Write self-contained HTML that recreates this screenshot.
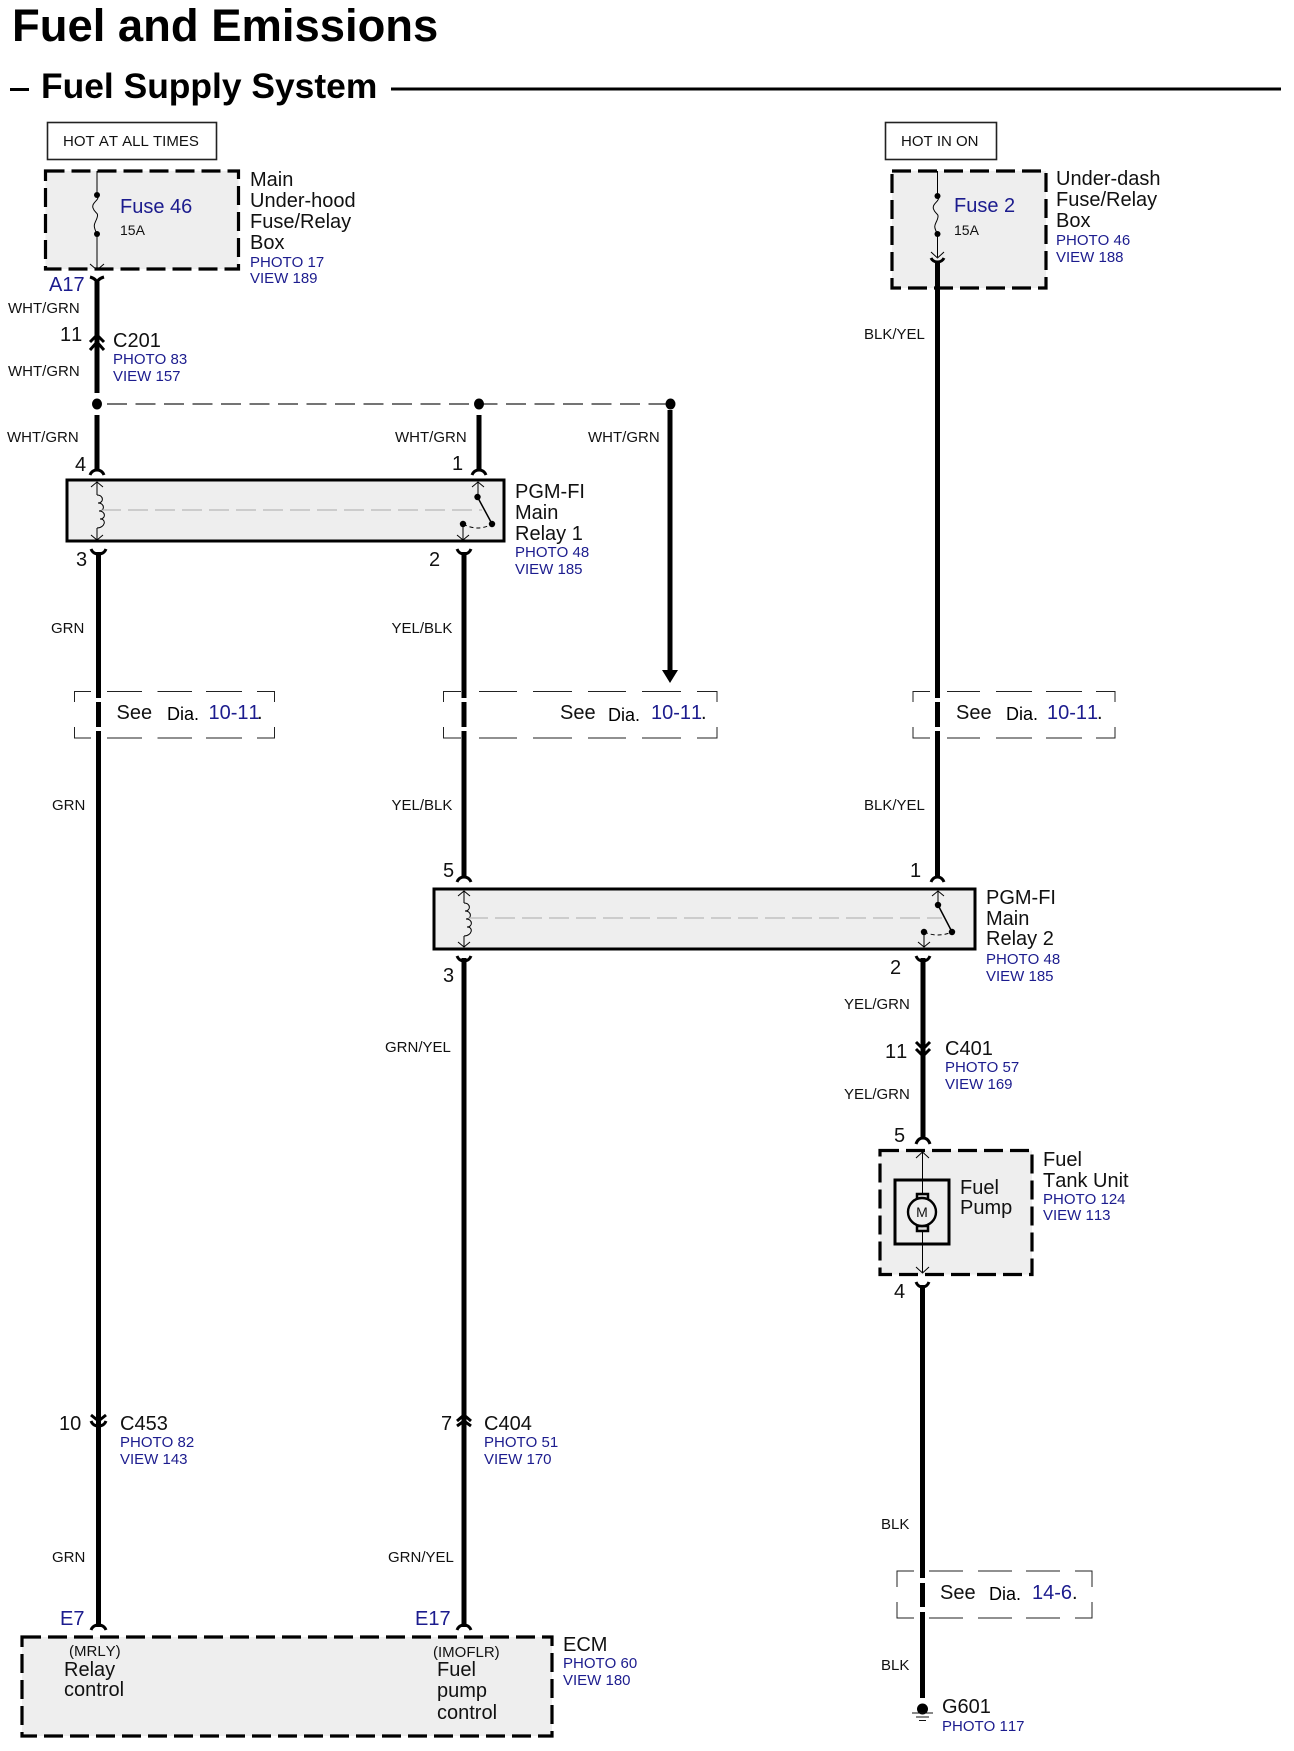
<!DOCTYPE html>
<html><head><meta charset="utf-8"><title>Fuel and Emissions - Fuel Supply System</title>
<style>
html,body{margin:0;padding:0;background:#fff}
svg{display:block}
text{font-family:"Liberation Sans",Arial,sans-serif;fill:#111;font-kerning:none}
.l{font-size:20px}.w{font-size:15px}.p{font-size:15px;fill:#1c1c8e}.b{font-size:20px;fill:#1c1c8e}.d{font-size:18px;fill:#000}
.thk{stroke:#000;stroke-width:5;fill:none}
.thn{stroke:#000;stroke-width:1;fill:none}
.con{stroke:#000;stroke-width:3;fill:none}
.box{fill:#eeeeee;stroke:#000;stroke-width:3}
.dbox{fill:#eeeeee;stroke:#000;stroke-width:3.2;stroke-dasharray:19 7}
.see{fill:none;stroke:#222;stroke-width:1}
.g{stroke:#aaa;stroke-width:1;stroke-dasharray:20 7;fill:none}
</style></head><body>
<svg width="1294" height="1751" viewBox="0 0 1294 1751" xmlns="http://www.w3.org/2000/svg">
<rect width="1294" height="1751" fill="#fff"/>
<!-- Titles -->
<text x="12" y="41" font-size="45.400" font-weight="700" style="fill:#000">Fuel and Emissions</text>
<rect x="10" y="88" width="19" height="3" fill="#000"/>
<text x="41" y="98" font-size="35.400" font-weight="700" style="fill:#000">Fuel Supply System</text>
<rect x="391" y="87.500" width="890" height="3" fill="#000"/>

<!-- Hot boxes -->
<rect x="47.500" y="122.500" width="169" height="37" fill="#fff" stroke="#222" stroke-width="1.600"/>
<text x="63" y="146" class="w">HOT AT ALL TIMES</text>
<rect x="885.500" y="122.500" width="111" height="37" fill="#fff" stroke="#222" stroke-width="1.600"/>
<text x="901" y="146" class="w">HOT IN ON</text>

<!-- Component boxes -->
<rect x="45.500" y="171" width="193" height="98" class="dbox"/>
<rect x="892" y="171" width="154" height="117" class="dbox"/>
<rect x="67" y="480" width="437" height="61" class="box"/>
<rect x="434" y="889" width="541" height="60" class="box"/>
<rect x="880" y="1150.500" width="152" height="124" class="dbox"/>
<rect x="22" y="1637" width="530" height="99" class="dbox"/>

<!-- Fuse 46 internals -->
<path class="thn" d="M97 171V195M97 234V268M97 195c4 5 -6 7 -4 13s6 4 4 10 -5 6 0 16"/>
<circle cx="97" cy="195" r="3"/><circle cx="97" cy="234" r="3"/>
<path class="thn" d="M90 264L97 270L104 264"/>
<text x="120" y="213" class="b">Fuse 46</text>
<text x="120" y="235" font-size="14">15A</text>

<!-- Fuse 2 internals -->
<path class="thn" d="M937.500 171V196M937.500 234V257M937.500 196c4 5 -6 7 -4 13s6 4 4 10 -5 6 0 15"/>
<circle cx="937.500" cy="196" r="3"/><circle cx="937.500" cy="234" r="3"/>
<path class="thn" d="M931 252L937.500 258L944 252"/>
<text x="954" y="212" class="b">Fuse 2</text>
<text x="954" y="235" font-size="14">15A</text>

<!-- Thick wires -->
<path class="thk" d="M97 282V393M97 415V471"/>
<path class="thk" d="M479 415V471"/>
<path class="thk" d="M670 410V672"/>
<path d="M662 670H678L670 683Z" fill="#000"/>
<path class="thk" d="M98.500 552V698M98.500 702V727M98.500 731V1627"/>
<path class="thk" d="M464 552V698M464 702V727M464 731V878"/>
<path class="thk" d="M464 958V1627"/>
<path class="thk" d="M937.500 262V698M937.500 702V727M937.500 731V878"/>
<path class="thk" d="M923 958V1137"/>
<path class="thk" d="M922.500 1285V1578M922.500 1583V1607M922.500 1612V1698"/>

<!-- Connectors -->
<path class="con" d="M90 277Q97 279 97 284Q97 279 104 277"/>
<path class="con" d="M90 342L97 335L104 342M90 350L97 342L104 350"/>
<path class="con" d="M90 475Q92 470 97 470Q102 470 104 475"/>
<path class="con" d="M472 475Q474 470 479 470Q484 470 486 475"/>
<path class="con" d="M91 549Q93 554 98.500 554Q104 554 106 549"/>
<path class="con" d="M457 549Q459 554 464 554Q469 554 471 549"/>
<path class="con" d="M931 258Q933 262 937.500 262Q942 262 944 258"/>
<path class="con" d="M457 882Q459 877 464 877Q469 877 471 882"/>
<path class="con" d="M931 882Q933 877 937.500 877Q942 877 944 882"/>
<path class="con" d="M457 956Q459 961 464 961Q469 961 471 956"/>
<path class="con" d="M916 956Q918 961 923 961Q928 961 930 956"/>
<path class="con" d="M916 1042L923 1049L930 1042M916 1049L923 1056L930 1049"/>
<path class="con" d="M916 1144Q918 1138 923 1138Q928 1138 930 1144"/>
<path class="con" d="M916 1282Q918 1287 922.500 1287Q927 1287 929 1282"/>
<path class="con" d="M91 1415L98.500 1421L106 1415M91 1421Q93 1426 98.500 1426Q104 1426 106 1421"/>
<path class="con" d="M457 1421L464 1415L471 1421M457 1426L464 1421L471 1426"/>
<path class="con" d="M91 1630Q93 1625 98.500 1625Q104 1625 106 1630"/>
<path class="con" d="M457 1630Q459 1625 464 1625Q469 1625 471 1630"/>

<!-- Splice -->
<path d="M107 404H670" stroke="#222" stroke-width="1.200" stroke-dasharray="20 8.500" fill="none"/>
<ellipse cx="97" cy="404" rx="5" ry="5.500"/><ellipse cx="479" cy="404" rx="5" ry="5.500"/><ellipse cx="670.500" cy="404" rx="5" ry="5.500"/>

<!-- Relay 1 internals -->
<path class="thn" d="M97 482V495M97 528V540M91 487L97 482L103 487M91 535L97 540L103 535"/>
<path class="thn" d="M97 495c7 0 7 8 1 8c7 0 7 8 1 8c7 0 7 8 1 8c7 0 5 9 -3 9"/>
<path class="g" d="M101 510H482"/>
<path class="thn" d="M478 482V497M472 487L478 482L484 487M463 524V540M457 535L463 540L469 535"/>
<path d="M477.500 497L491 522" stroke="#000" stroke-width="1.500" fill="none"/>
<path d="M463 524Q478 532 492 524" stroke="#000" stroke-width="1" stroke-dasharray="4 3" fill="none"/>
<circle cx="477.500" cy="497" r="3.200"/><circle cx="492" cy="524" r="3.200"/><circle cx="463" cy="524" r="3.200"/>

<!-- Relay 2 internals -->
<path class="thn" d="M464 891V903M464 936V947M458 896L464 891L470 896M458 942L464 947L470 942"/>
<path class="thn" d="M464 903c7 0 7 8 1 8c7 0 7 8 1 8c7 0 7 8 1 8c7 0 5 9 -3 9"/>
<path class="g" d="M468 918H942"/>
<path class="thn" d="M938 891V905M932 896L938 891L944 896M924 932V947M918 942L924 947L930 942"/>
<path d="M938 905L951 930" stroke="#000" stroke-width="1.500" fill="none"/>
<path d="M924 932Q938 938 952 932" stroke="#000" stroke-width="1" stroke-dasharray="4 3" fill="none"/>
<circle cx="938" cy="905" r="3.200"/><circle cx="952" cy="932" r="3.200"/><circle cx="924" cy="932" r="3.200"/>

<!-- Fuel pump -->
<rect x="895" y="1180" width="54" height="64" fill="none" stroke="#000" stroke-width="3"/>
<path class="thn" d="M922.500 1152V1196M922.500 1228V1273M916 1158L922.500 1152L929 1158M916 1267L922.500 1273L929 1267"/>
<rect x="917" y="1194" width="11" height="6" fill="#ddd" stroke="#000" stroke-width="2.500"/>
<rect x="917" y="1226" width="11" height="5" fill="#ddd" stroke="#000" stroke-width="2.500"/>
<circle cx="922" cy="1212" r="14" fill="#eee" stroke="#000" stroke-width="2.400"/>
<text x="922" y="1217" font-size="14" text-anchor="middle">M</text>

<!-- See boxes -->
<g class="see">
<path d="M91 691.500H74.500V702M74.500 727V738H91M107 691.500H142M157.500 691.500H192M206 691.500H242M257 691.500H274.500V702M274.500 727V738H257M242 738H206M192 738H157.500M142 738H107"/>
<path d="M461 691.500H443.500V702M443.500 727V738H461M479 691.500H517M533 691.500H572M588 691.500H626M642 691.500H681M697 691.500H717V702M717 727V738H697M681 738H642M626 738H588M572 738H533M517 738H479"/>
<path d="M930 691.500H913V702M913 727V738H930M947 691.500H980M996 691.500H1032M1046 691.500H1082M1096 691.500H1115V702M1115 727V738H1096M1082 738H1046M1032 738H996M980 738H947"/>
<path d="M914 1571H897V1587M897 1602V1618H914M929 1571H963M978 1571H1012M1026 1571H1060M1075 1571H1092V1587M1092 1602V1618H1075M1060 1618H1026M1012 1618H978M963 1618H929"/>
</g>
<text x="116.500" y="719" class="l">See</text><text x="167" y="720" class="d">Dia.</text><text x="208.500" y="719" class="b">10-11</text><text x="257" y="719" class="l">.</text>
<text x="560" y="719" class="l">See</text><text x="608" y="721" class="d">Dia.</text><text x="651" y="719" class="b">10-11</text><text x="701" y="719" class="l">.</text>
<text x="956" y="719" class="l">See</text><text x="1006" y="720" class="d">Dia.</text><text x="1047" y="719" class="b">10-11</text><text x="1097" y="719" class="l">.</text>
<text x="940" y="1599" class="l">See</text><text x="989" y="1600" class="d">Dia.</text><text x="1032" y="1599" class="b">14-6</text><text x="1072" y="1599" class="l">.</text>

<!-- Ground -->
<ellipse cx="922.500" cy="1709" rx="5.500" ry="5.500"/>
<path d="M912 1713H933M916 1717H929M919 1720.500H926" stroke="#111" stroke-width="1" fill="none"/>

<!-- Labels -->
<text x="250" y="186" class="l">Main</text><text x="250" y="207" class="l">Under-hood</text><text x="250" y="228" class="l">Fuse/Relay</text><text x="250" y="249" class="l">Box</text>
<text x="250" y="267" class="p">PHOTO 17</text><text x="250" y="283" class="p">VIEW 189</text>

<text x="1056" y="185" class="l">Under-dash</text><text x="1056" y="206" class="l">Fuse/Relay</text><text x="1056" y="227" class="l">Box</text>
<text x="1056" y="245" class="p">PHOTO 46</text><text x="1056" y="262" class="p">VIEW 188</text>

<text x="49" y="291" class="b">A17</text>
<text x="8" y="313" class="w">WHT/GRN</text>
<text x="60" y="341" class="l">11</text>
<text x="113" y="347" class="l">C201</text><text x="113" y="364" class="p">PHOTO 83</text><text x="113" y="381" class="p">VIEW 157</text>
<text x="8" y="376" class="w">WHT/GRN</text>
<text x="7" y="442" class="w">WHT/GRN</text><text x="395" y="442" class="w">WHT/GRN</text><text x="588" y="442" class="w">WHT/GRN</text>
<text x="864" y="339" class="w">BLK/YEL</text>

<text x="75" y="471" class="l">4</text><text x="452" y="470" class="l">1</text>
<text x="76" y="566" class="l">3</text><text x="429" y="566" class="l">2</text>
<text x="515" y="498" class="l">PGM-FI</text><text x="515" y="519" class="l">Main</text><text x="515" y="540" class="l">Relay 1</text>
<text x="515" y="557" class="p">PHOTO 48</text><text x="515" y="574" class="p">VIEW 185</text>

<text x="51" y="633" class="w">GRN</text><text x="391.500" y="633" class="w">YEL/BLK</text>
<text x="52" y="810" class="w">GRN</text><text x="391.500" y="810" class="w">YEL/BLK</text><text x="864" y="810" class="w">BLK/YEL</text>

<text x="443" y="877" class="l">5</text><text x="910" y="877" class="l">1</text>
<text x="443" y="982" class="l">3</text><text x="890" y="974" class="l">2</text>
<text x="986" y="904" class="l">PGM-FI</text><text x="986" y="925" class="l">Main</text><text x="986" y="945" class="l">Relay 2</text>
<text x="986" y="964" class="p">PHOTO 48</text><text x="986" y="981" class="p">VIEW 185</text>

<text x="844" y="1009" class="w">YEL/GRN</text>
<text x="385" y="1052" class="w">GRN/YEL</text>
<text x="885" y="1058" class="l">11</text>
<text x="945" y="1055" class="l">C401</text><text x="945" y="1072" class="p">PHOTO 57</text><text x="945" y="1089" class="p">VIEW 169</text>
<text x="844" y="1099" class="w">YEL/GRN</text>

<text x="894" y="1142" class="l">5</text><text x="894" y="1298" class="l">4</text>
<text x="960" y="1194" class="l">Fuel</text><text x="960" y="1214" class="l">Pump</text>
<text x="1043" y="1166" class="l">Fuel</text><text x="1043" y="1187" class="l">Tank Unit</text>
<text x="1043" y="1204" class="p">PHOTO 124</text><text x="1043" y="1220" class="p">VIEW 113</text>

<text x="59" y="1430" class="l">10</text>
<text x="120" y="1430" class="l">C453</text><text x="120" y="1447" class="p">PHOTO 82</text><text x="120" y="1464" class="p">VIEW 143</text>
<text x="441" y="1430" class="l">7</text>
<text x="484" y="1430" class="l">C404</text><text x="484" y="1447" class="p">PHOTO 51</text><text x="484" y="1464" class="p">VIEW 170</text>

<text x="881" y="1529" class="w">BLK</text><text x="881" y="1670" class="w">BLK</text>
<text x="52" y="1562" class="w">GRN</text><text x="388" y="1562" class="w">GRN/YEL</text>

<text x="60" y="1625" class="b">E7</text><text x="415" y="1625" class="b">E17</text>

<text x="69" y="1656" font-size="15">(MRLY)</text>
<text x="64" y="1676" class="l">Relay</text><text x="64" y="1696" class="l">control</text>
<text x="433" y="1657" font-size="15">(IMOFLR)</text>
<text x="437" y="1676" class="l">Fuel</text><text x="437" y="1697" class="l">pump</text><text x="437" y="1719" class="l">control</text>
<text x="563" y="1651" class="l">ECM</text><text x="563" y="1668" class="p">PHOTO 60</text><text x="563" y="1685" class="p">VIEW 180</text>

<text x="942" y="1713" class="l">G601</text><text x="942" y="1731" class="p">PHOTO 117</text>
</svg>
</body></html>
